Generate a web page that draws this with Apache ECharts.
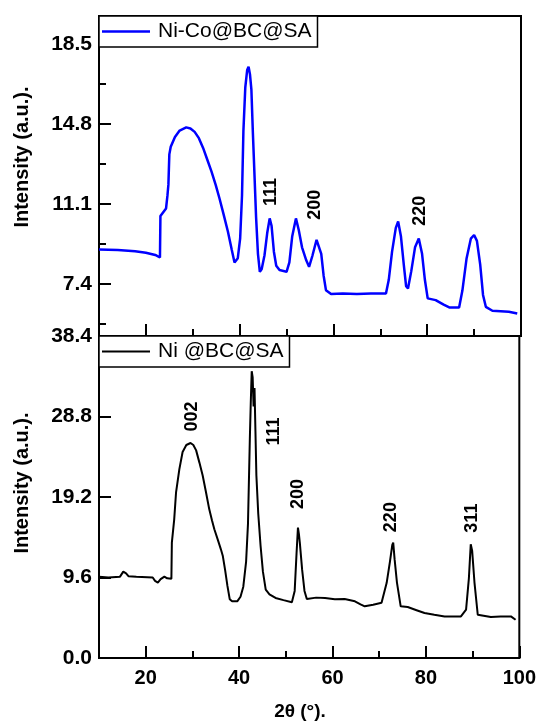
<!DOCTYPE html>
<html>
<head>
<meta charset="utf-8">
<script src="https://cdn.jsdelivr.net/npm/echarts@6/dist/echarts.min.js"></script>
<style>
html,body{margin:0;padding:0;background:#fff;}
#chart{width:539px;height:722px;}
</style>
</head>
<body>
<div id="chart"></div>
<script>
// ---------- data ----------
var seriesNames = ['Ni-Co@BC@SA', 'Ni @BC@SA'];

var niCoData = [
  [10, 9.0], [14, 8.98], [17.7, 8.92], [20, 8.85], [22, 8.75], [23.0, 8.63], [23.1, 10.55],
  [24.3, 10.9], [24.6, 11.5], [24.8, 12.0], [25.0, 13.4], [25.3, 13.75], [26.2, 14.2],
  [27.2, 14.5], [28.6, 14.65], [29.5, 14.6], [30.4, 14.44], [31.3, 14.15], [32.2, 13.7],
  [33.1, 13.15], [34.0, 12.6], [34.9, 11.98], [35.7, 11.36], [36.6, 10.6], [37.5, 9.82],
  [38.3, 9.0], [38.9, 8.4], [39.2, 8.33], [39.6, 8.6], [40.1, 9.5], [40.5, 11.5], [40.8, 14.5],
  [41.2, 16.5], [41.6, 17.3], [41.9, 17.45], [42.2, 17.1], [42.5, 16.4], [42.8, 14.5],
  [43.1, 12.8], [43.5, 10.5], [43.9, 8.8], [44.3, 7.97], [44.7, 8.1], [45.3, 8.74], [45.9, 9.8],
  [46.4, 10.44], [46.8, 10.1], [47.3, 8.9], [47.8, 8.25], [48.5, 8.05], [50.0, 7.97],
  [50.6, 8.4], [51.2, 9.6], [52.0, 10.44], [52.6, 9.9], [53.3, 9.1], [54.2, 8.5], [54.8, 8.2],
  [55.5, 8.7], [56.4, 9.45], [56.8, 9.5], [57.4, 8.8], [57.9, 7.8], [58.4, 7.12], [59.5, 6.94],
  [62, 6.96], [65, 6.94], [68, 6.96], [71.2, 6.96], [71.8, 7.6], [72.5, 8.9], [73.3, 10.0],
  [73.8, 10.3], [74.4, 9.6], [75.0, 8.3], [75.5, 7.3], [75.9, 7.2], [76.6, 8.0], [77.4, 9.1],
  [78.2, 9.51], [78.9, 8.8], [79.5, 7.6], [80.1, 6.74], [81.8, 6.66], [83.5, 6.45], [84.7, 6.32],
  [86.8, 6.32], [87.5, 7.1], [88.4, 8.6], [89.3, 9.5], [90.0, 9.67], [90.6, 9.4], [91.3, 8.3],
  [91.9, 6.9], [92.5, 6.35], [93.9, 6.17], [97.4, 6.12], [99.2, 6.04]
];

var niData = [
  [10, 9.7], [12, 9.6], [14.5, 9.7], [15.2, 10.3], [15.8, 10.1], [16.3, 9.76], [18, 9.7],
  [21.5, 9.6], [22.0, 9.2], [22.6, 9.0], [23.2, 9.4], [24.0, 9.7], [24.6, 9.5], [25.5, 9.44],
  [25.6, 13.76], [26.1, 16.5], [26.5, 19.76], [27.2, 22.5], [27.9, 24.56], [28.7, 25.4],
  [29.6, 25.64], [30.2, 25.4], [30.8, 24.76], [31.5, 23.3], [32.2, 21.76], [32.9, 19.8],
  [33.6, 17.76], [34.2, 16.4], [34.7, 15.36], [35.5, 14.0], [36.1, 12.96], [36.5, 12.2],
  [37.0, 10.5], [37.5, 8.6], [38.0, 7.0], [38.5, 6.76], [39.6, 6.76], [40.3, 7.3], [40.9, 8.5],
  [41.5, 11.5], [41.9, 16], [42.3, 26.16], [42.5, 30.5], [42.7, 34.2], [42.9, 33.5],
  [43.1, 30.0], [43.3, 32.2], [43.5, 27.0], [43.7, 21.76], [44.1, 17.2], [44.6, 13.36],
  [45.1, 10.3], [45.7, 8.16], [46.5, 7.6], [47.8, 7.16], [49.5, 6.9], [51.3, 6.64], [51.9, 8.0],
  [52.3, 12.5], [52.6, 15.56], [52.8, 14.8], [53.0, 13.76], [53.5, 10.5], [54.0, 8.0],
  [54.5, 7.04], [56.5, 7.2], [58.4, 7.16], [60.5, 7.0], [62.6, 7.04], [64.8, 6.76], [66.0, 6.4],
  [66.9, 6.16], [68.7, 6.36], [70.5, 6.6], [71.6, 8.96], [72.3, 11.5], [72.8, 13.5], [73.0, 13.76],
  [73.3, 11.76], [73.8, 9.0], [74.6, 6.16], [76.1, 6.08], [78.0, 5.7], [79.7, 5.36], [81.8, 5.16],
  [84.0, 4.96], [87.5, 4.96], [88.6, 5.76], [89.2, 9.5], [89.6, 13.56], [89.9, 12.8], [90.4, 9.0],
  [91.1, 5.16], [93.9, 4.88], [96, 4.95], [98.2, 4.96], [99.2, 4.56]
];

// peak annotations (Miller indices) [x, y, text]
var niCoPeaks = [[46.7, 11.66, '111'], [56.06, 11.07, '200'], [78.47, 10.79, '220']];
var niPeaks = [[30.0, 28.8, '002'], [47.4, 27.0, '111'], [52.55, 19.56, '200'], [72.55, 16.8, '220'], [89.8, 16.68, '311']];

// tick values
var xMajorTicks = [20, 40, 60, 80, 100];
var xMinorTicks = [30, 50, 70, 90];
var topYMajor = [7.4, 11.1, 14.8, 18.5];
var topYMinor = [5.55, 9.25, 12.95, 16.65];
var botYLabels = [0.0, 9.6, 19.2, 28.8, 38.4];
var botYMajor = [9.6, 19.2, 28.8];

var topYRange = [5.0, 19.8];
var botYRange = [0, 38.4];
var xRange = [10, 100];

// ---------- chart ----------
var FONT = '"Liberation Sans", Arial, sans-serif';
var MAJOR_LEN = 12, MINOR_LEN = 7;
var chart = echarts.init(document.getElementById('chart'));

function xAxisMajor(grid, showLabels) {
  return {
    type: 'value', gridIndex: grid, min: xRange[0], max: xRange[1], position: 'bottom',
    axisLine: {show: true, onZero: false, lineStyle: {color: '#000', width: 2}},
    axisTick: {show: true, inside: true, length: MAJOR_LEN, customValues: xMajorTicks, lineStyle: {color: '#000', width: 2}},
    axisLabel: {show: showLabels, customValues: xMajorTicks, margin: 10, color: '#000',
      fontFamily: FONT, fontWeight: 'bold', fontSize: 20},
    splitLine: {show: false}
  };
}
function xAxisMinor(grid) {
  return {
    type: 'value', gridIndex: grid, min: xRange[0], max: xRange[1], position: 'bottom', offset: 0,
    axisLine: {show: false, onZero: false},
    axisTick: {show: true, inside: true, length: MINOR_LEN, customValues: xMinorTicks, lineStyle: {color: '#000', width: 2}},
    axisLabel: {show: false, customValues: xMinorTicks},
    splitLine: {show: false}
  };
}
function peakMarks(peaks) {
  return {
    symbol: 'circle', symbolSize: 0, silent: true,
    label: {show: true, position: 'inside', rotate: 90, formatter: '{b}', color: '#000',
      fontFamily: FONT, fontWeight: 'bold', fontSize: 18},
    data: peaks.map(function (p) { return {name: p[2], coord: [p[0], p[1]]}; })
  };
}
function legendFor(name, top, lineH) {
  return {
    data: [{name: name, icon: 'rect'}], left: 99, top: top, orient: 'horizontal',
    itemWidth: 48, itemHeight: lineH,
    padding: [5, 6, 5, 3], borderColor: '#000', borderWidth: 1.5, backgroundColor: '#fff', selectedMode: false,
    textStyle: {color: '#000', fontFamily: FONT, fontSize: 21, padding: [0, 0, 0, 3]}
  };
}

var option = {
  animation: false,
  backgroundColor: '#fff',
  grid: [
    {left: 99, right: 18, top: 16, height: 320, show: true, borderColor: '#000', borderWidth: 2},
    {left: 99, right: 18, top: 336, height: 322, show: true, borderColor: '#000', borderWidth: 2}
  ],
  legend: [legendFor(seriesNames[0], 16, 2.5), legendFor(seriesNames[1], 336, 2)],
  xAxis: [xAxisMajor(0, false), xAxisMinor(0), xAxisMajor(1, true), xAxisMinor(1)],
  yAxis: [
    {type: 'value', gridIndex: 0, min: topYRange[0], max: topYRange[1], position: 'left',
      axisLine: {show: true, onZero: false, lineStyle: {color: '#000', width: 2}},
      axisTick: {show: true, inside: true, length: MAJOR_LEN, customValues: topYMajor, lineStyle: {color: '#000', width: 2}},
      axisLabel: {show: true, customValues: topYMajor, margin: 7, color: '#000', fontFamily: FONT, fontWeight: 'bold', fontSize: 21,
        formatter: function (v) { return v.toFixed(1); }},
      splitLine: {show: false}},
    {type: 'value', gridIndex: 0, min: topYRange[0], max: topYRange[1], position: 'left', offset: 0,
      axisLine: {show: false, onZero: false},
      axisTick: {show: true, inside: true, length: MINOR_LEN, customValues: topYMinor, lineStyle: {color: '#000', width: 2}},
      axisLabel: {show: false, customValues: topYMinor}, splitLine: {show: false}},
    {type: 'value', gridIndex: 1, min: botYRange[0], max: botYRange[1], position: 'left',
      axisLine: {show: true, onZero: false, lineStyle: {color: '#000', width: 2}},
      axisTick: {show: true, inside: true, length: MAJOR_LEN, customValues: botYMajor, lineStyle: {color: '#000', width: 2}},
      axisLabel: {show: true, customValues: botYLabels, margin: 7, color: '#000', fontFamily: FONT, fontWeight: 'bold', fontSize: 21,
        formatter: function (v) { return v.toFixed(1); }},
      splitLine: {show: false}}
  ],
  series: [
    {name: seriesNames[0], type: 'line', xAxisIndex: 0, yAxisIndex: 0, data: niCoData,
      symbol: 'none', showSymbol: false, smooth: false,
      lineStyle: {color: '#0000ff', width: 2.5}, itemStyle: {color: '#0000ff'},
      markPoint: peakMarks(niCoPeaks)},
    {name: seriesNames[1], type: 'line', xAxisIndex: 2, yAxisIndex: 2, data: niData,
      symbol: 'none', showSymbol: false, smooth: false,
      lineStyle: {color: '#000', width: 2}, itemStyle: {color: '#000'},
      markPoint: peakMarks(niPeaks)}
  ],
  graphic: [
    {type: 'text', x: 22, y: 157, rotation: Math.PI / 2,
      style: {text: 'Intensity (a.u.).', align: 'center', verticalAlign: 'middle', fill: '#000',
        font: 'bold 20px ' + FONT}},
    {type: 'text', x: 22, y: 483, rotation: Math.PI / 2,
      style: {text: 'Intensity (a.u.).', align: 'center', verticalAlign: 'middle', fill: '#000',
        font: 'bold 20px ' + FONT}},
    {type: 'text', x: 300, y: 712,
      style: {text: '2θ (°).', align: 'center', verticalAlign: 'middle', fill: '#000',
        font: 'bold 19px ' + FONT}}
  ]
};
chart.setOption(option);
</script>
</body>
</html>
